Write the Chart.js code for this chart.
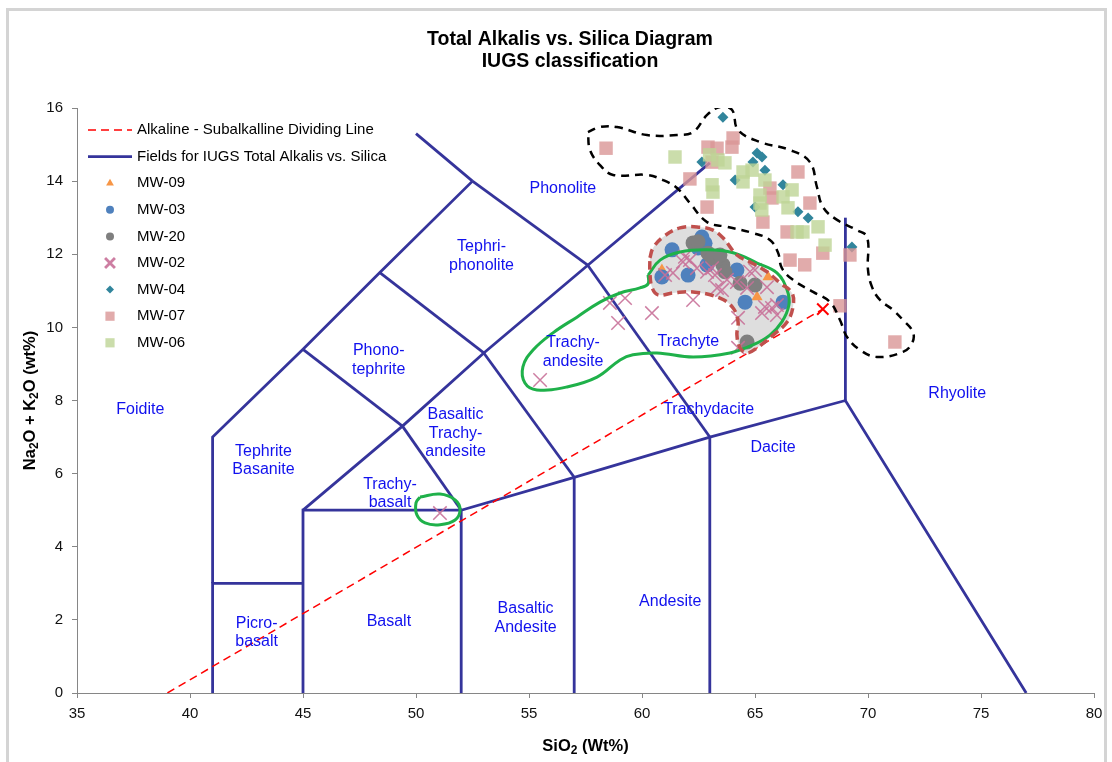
<!DOCTYPE html>
<html>
<head>
<meta charset="utf-8">
<script src="https://cdn.jsdelivr.net/npm/chart.js@4.4.1/dist/chart.umd.min.js"></script>
<style>
  html, body { margin: 0; padding: 0; background: #fff; }
  #wrap { width: 1112px; height: 762px; }
</style>
</head>
<body>
<div id="wrap"><canvas id="tas" width="1112" height="762"></canvas></div>
<script>
// sample series: [SiO2, Na2O + K2O]
const mw09 = [[60.88, 11.57], [63.14, 11.9], [65.58, 11.38], [65.09, 10.83]];
const mw03 = [[61.33, 12.12], [62.65, 12.47], [62.79, 12.3], [62.48, 12.17], [60.88, 11.38],
  [62.04, 11.43], [62.88, 11.71], [64.2, 11.57], [64.56, 10.69], [66.24, 10.69]];
const mw20 = [[62.26, 12.31], [62.48, 12.34], [62.92, 12.03], [63.1, 11.9], [63.58, 11.71],
  [63.67, 11.52], [63.45, 11.98], [64.34, 11.21], [65.0, 11.16], [64.65, 9.6]];
const mw02 = [[51.06, 4.92], [55.49, 8.56], [58.58, 10.67], [59.25, 10.8], [58.94, 10.12],
  [60.44, 10.39], [62.26, 10.75], [64.25, 10.26], [64.25, 9.44], [61.02, 11.43], [61.37, 11.49],
  [61.81, 11.79], [61.9, 11.93], [62.12, 11.84], [62.43, 11.62], [62.88, 11.52], [63.1, 11.62],
  [63.23, 11.43], [63.32, 11.08], [63.54, 11.02], [63.76, 11.3], [64.2, 11.24], [64.65, 11.08],
  [64.78, 11.52], [65.0, 11.57], [65.53, 11.1], [65.44, 10.56], [65.75, 10.53], [65.97, 10.61],
  [65.31, 10.39], [65.97, 10.34]];
const mw04 = [[63.58, 15.75], [62.65, 14.52], [65.09, 14.77], [65.31, 14.66], [64.91, 14.52],
  [65.44, 14.3], [64.12, 14.03], [66.24, 13.9], [65.0, 13.29], [66.9, 13.16], [67.35, 12.99],
  [69.29, 12.2]];
const mw07 = [[58.41, 14.9], [62.12, 14.06], [62.92, 14.93], [63.32, 14.9], [63.1, 14.52],
  [63.98, 14.93], [64.03, 15.18], [62.88, 13.29], [66.9, 14.25], [65.66, 13.81], [65.75, 13.54],
  [65.35, 12.88], [67.43, 13.4], [66.42, 12.61], [66.55, 11.84], [67.2, 11.71], [68.0, 12.03],
  [69.2, 11.98], [68.76, 10.59], [71.19, 9.6]];
const mw06 = [[61.46, 14.66], [62.99, 14.72], [63.36, 14.58], [63.67, 14.5], [63.1, 13.9],
  [63.14, 13.7], [64.47, 14.25], [64.87, 14.3], [64.47, 13.98], [65.44, 14.03], [65.22, 13.62],
  [65.22, 13.4], [65.3, 13.21], [66.24, 13.57], [66.64, 13.76], [66.46, 13.27], [66.86, 12.61],
  [67.12, 12.61], [67.79, 12.75], [68.1, 12.25]];

// alkaline / subalkaline dividing line
const dividingLine = [[39, 0], [68, 10.5]];

// IUGS field boundaries (each one a polyline)
const fieldSegments = [
  [[41, 0], [41, 3], [45, 3]],
  [[45, 0], [45, 5], [52, 5]],
  [[52, 0], [52, 5], [57, 5.9], [63, 7], [69, 8], [77, 0]],
  [[57, 0], [57, 5.9]],
  [[63, 0], [63, 7]],
  [[69, 8], [69, 13]],
  [[41, 3], [41, 7], [45, 9.4], [48.4, 11.5], [52.5, 14]],
  [[45, 5], [49.4, 7.3], [53, 9.3], [57.6, 11.7], [63, 14.5]],
  [[49.4, 7.3], [52, 5]],
  [[53, 9.3], [57, 5.9]],
  [[57.6, 11.7], [63, 7]],
  [[45, 9.4], [49.4, 7.3]],
  [[48.4, 11.5], [53, 9.3]],
  [[52.5, 14], [57.6, 11.7]],
  [[50, 15.3], [52.5, 14]]
];

// field names and where they sit (data units)
const fieldNames = [['Foidite'], ['Tephrite', 'Basanite'], ['Picro-', 'basalt'], ['Basalt'],
  ['Basaltic', 'Andesite'], ['Andesite'], ['Dacite'], ['Rhyolite'], ['Trachydacite'],
  ['Trachyte'], ['Trachy-', 'andesite'], ['Basaltic', 'Trachy-', 'andesite'],
  ['Trachy-', 'basalt'], ['Phono-', 'tephrite'], ['Tephri-', 'phonolite'], ['Phonolite']];
const fieldX = [37.8, 43.25, 42.95, 48.8, 54.85, 61.25, 65.8, 73.95, 62.95, 62.05, 56.95, 51.75, 48.85, 48.35, 52.9, 56.5];
const fieldY = [7.75, 6.35, 1.65, 1.95, 2.05, 2.5, 6.7, 8.2, 7.75, 9.62, 9.33, 7.1, 5.45, 9.1, 11.95, 13.8];

// hand drawn outlines around sample groups
const outlineOuter = [[57.61, 15.34], [58.14, 15.48], [58.89, 15.48], [60.22, 15.26], [61.55, 15.26],
  [62.26, 15.34], [62.88, 15.81], [63.45, 16.03], [63.98, 15.95], [64.25, 15.4], [65.22, 15.07],
  [66.55, 14.85], [67.43, 14.52], [67.74, 13.84], [68.01, 13.29], [68.63, 12.94], [69.51, 12.66],
  [69.96, 12.47], [70.0, 11.57], [70.18, 11.1], [70.53, 10.75], [71.1, 10.48], [71.55, 10.2],
  [71.99, 9.87], [71.95, 9.57], [71.55, 9.33], [70.4, 9.19], [69.65, 9.38], [69.07, 9.74],
  [68.76, 10.2], [68.32, 10.69], [67.57, 10.97], [66.68, 11.3], [66.19, 11.62], [66.02, 12.04],
  [65.66, 12.39], [64.91, 12.58], [63.76, 12.75], [62.88, 12.88], [62.12, 13.4], [61.55, 13.81],
  [60.93, 14.03], [60.22, 14.17], [58.72, 14.17], [58.14, 14.44], [57.7, 14.85], [57.61, 15.34]];
const outlineCluster = [[60.35, 11.9], [60.49, 12.17], [60.93, 12.47], [61.68, 12.72], [62.57, 12.74],
  [63.14, 12.66], [63.58, 12.45], [64.2, 11.98], [64.78, 11.79], [65.53, 11.52], [66.11, 11.21],
  [66.64, 10.94], [66.68, 10.56], [66.42, 10.15], [65.8, 9.79], [65.09, 9.44], [64.65, 9.3],
  [64.34, 9.44], [64.2, 9.79], [64.25, 10.15], [64.03, 10.53], [63.45, 10.8], [62.26, 10.97],
  [61.37, 10.94], [60.71, 10.89], [60.44, 11.1], [60.35, 11.52], [60.35, 11.9]];
const outlineTrachy = [[60.27, 11.43], [60.8, 11.84], [61.68, 12.06], [62.88, 12.12], [64.03, 12.04],
  [65.09, 11.76], [65.97, 11.49], [66.42, 11.02], [66.5, 10.61], [66.19, 10.15], [65.66, 9.79],
  [64.91, 9.52], [63.89, 9.3], [62.26, 9.19], [60.66, 9.3], [59.6, 9.25], [59.03, 9.11],
  [58.01, 8.64], [56.68, 8.37], [55.35, 8.29], [54.82, 8.48], [54.73, 8.92], [55.18, 9.38],
  [56.06, 9.85], [57.12, 10.28], [58.14, 10.69], [59.03, 10.94], [59.91, 11.08], [60.27, 11.19],
  [60.27, 11.43]];
const outlineBasalt = [[50.18, 5.36], [51.06, 5.44], [51.73, 5.28], [51.95, 5.01], [51.73, 4.73],
  [51.06, 4.6], [50.4, 4.65], [50.04, 4.87], [50.0, 5.2], [50.18, 5.36]];

const FONT = "'Liberation Sans', Arial, sans-serif";
const toXY = arr => arr.map(p => ({ x: p[0], y: p[1] }));

const seriesStyle = [
  { label: 'MW-09', data: mw09, style: 'triangle', r: 6.5, fill: '#f79646', line: '#f79646', order: 7 },
  { label: 'MW-03', data: mw03, style: 'circle', r: 7.5, fill: '#4f81bd', line: '#4f81bd', order: 6 },
  { label: 'MW-20', data: mw20, style: 'circle', r: 7.5, fill: '#7f7f7f', line: '#7f7f7f', order: 5 },
  { label: 'MW-02', data: mw02, style: 'crossRot', r: 9.5, fill: 'rgba(0,0,0,0)', line: 'rgba(200,112,152,0.9)', order: 4 },
  { label: 'MW-04', data: mw04, style: 'rectRot', r: 5.5, fill: '#31859c', line: '#31859c', order: 3 },
  { label: 'MW-07', data: mw07, style: 'rect', r: 9.5, fill: 'rgba(217,150,150,0.8)', line: 'rgba(217,150,150,0)', order: 2 },
  { label: 'MW-06', data: mw06, style: 'rect', r: 9.5, fill: 'rgba(190,213,150,0.8)', line: 'rgba(190,213,150,0)', order: 1 }
];

const datasets = [];
seriesStyle.forEach(s => {
  datasets.push({
    label: s.label,
    data: toXY(s.data),
    pointStyle: s.style,
    pointRadius: s.r,
    backgroundColor: s.fill,
    borderColor: s.line,
    borderWidth: s.style === 'crossRot' ? 1.5 : 0,
    order: s.order
  });
});

fieldSegments.forEach(seg => {
  datasets.push({
    label: 'fields',
    data: toXY(seg),
    showLine: true,
    borderColor: '#35349b',
    borderWidth: 2.8,
    pointRadius: 0,
    fill: false,
    order: 20
  });
});

datasets.push({
  label: 'dividing',
  data: toXY(dividingLine),
  showLine: true,
  borderColor: '#ff0000',
  borderWidth: 1.5,
  borderDash: [8, 5],
  pointStyle: 'crossRot',
  pointRadius: ctx => ctx.dataIndex === dividingLine.length - 1 ? 8 : 0,
  pointBorderWidth: 2,
  pointBorderColor: '#ff0000',
  order: 15
});

// grey filled area behind the trachyte cluster
datasets.push({
  label: 'clusterFill',
  data: toXY(outlineCluster),
  showLine: true,
  tension: 0.4,
  borderWidth: 0,
  borderColor: 'rgba(0,0,0,0)',
  backgroundColor: 'rgba(200,200,200,0.6)',
  fill: 'shape',
  pointRadius: 0,
  order: 12
});
datasets.push({
  label: 'clusterLine',
  data: toXY(outlineCluster),
  showLine: true,
  tension: 0.4,
  borderColor: '#c0504d',
  borderWidth: 3.5,
  borderDash: [9, 5],
  fill: false,
  pointRadius: 0,
  order: 0
});
datasets.push({
  label: 'outer',
  data: toXY(outlineOuter),
  showLine: true,
  tension: 0.4,
  borderColor: '#000',
  borderWidth: 2.5,
  borderDash: [8, 6],
  fill: false,
  pointRadius: 0,
  order: 0
});
[outlineTrachy, outlineBasalt].forEach(o => {
  datasets.push({
    label: 'green',
    data: toXY(o),
    showLine: true,
    tension: 0.4,
    borderColor: '#1fb14a',
    borderWidth: 3,
    fill: false,
    pointRadius: 0,
    order: 0
  });
});

// rich text helper for subscripts: parts = [[text, isSub], ...]
function drawRich(ctx, parts, size, cx, cy) {
  const big = 'bold ' + size + 'px ' + FONT;
  const small = 'bold ' + Math.round(size * 0.7) + 'px ' + FONT;
  let total = 0;
  parts.forEach(p => { ctx.font = p[1] ? small : big; total += ctx.measureText(p[0]).width; });
  let x = cx - total / 2;
  ctx.textAlign = 'left';
  ctx.textBaseline = 'middle';
  parts.forEach(p => {
    ctx.font = p[1] ? small : big;
    ctx.fillText(p[0], x, p[1] ? cy + 4.5 : cy);
    x += ctx.measureText(p[0]).width;
  });
}

const decor = {
  id: 'decor',
  beforeDraw(chart) {
    const ctx = chart.ctx;
    ctx.save();
    ctx.fillStyle = '#fff';
    ctx.fillRect(0, 0, chart.width, chart.height);
    ctx.strokeStyle = '#d4d4d4';
    ctx.lineWidth = 3;
    ctx.strokeRect(7.5, 9.5, chart.width - 14, chart.height + 20);
    ctx.restore();
  },
  afterDraw(chart) {
    const ctx = chart.ctx;
    const xs = chart.scales.x, ys = chart.scales.y;
    ctx.save();
    // title
    ctx.fillStyle = '#000';
    ctx.font = 'bold 19.5px ' + FONT;
    ctx.textAlign = 'center';
    ctx.textBaseline = 'middle';
    ctx.fillText('Total Alkalis vs. Silica Diagram', 570, 40);
    ctx.fillText('IUGS classification', 570, 62);

    // axis titles
    drawRich(ctx, [['SiO', false], ['2', true], [' (Wt%)', false]], 16.5, (xs.left + xs.right) / 2, 746);
    ctx.save();
    ctx.translate(30, (ys.top + ys.bottom) / 2);
    ctx.rotate(-Math.PI / 2);
    drawRich(ctx, [['Na', false], ['2', true], ['O + K', false], ['2', true], ['O (wt%)', false]], 16.5, 0, 0);
    ctx.restore();

    // field names
    ctx.fillStyle = '#1111ee';
    ctx.font = '16px ' + FONT;
    ctx.textAlign = 'center';
    ctx.textBaseline = 'middle';
    fieldNames.forEach((lines, i) => {
      const px = xs.getPixelForValue(fieldX[i]);
      const py = ys.getPixelForValue(fieldY[i]);
      const lh = 18.5;
      const y0 = py - (lines.length - 1) * lh / 2;
      lines.forEach((t, j) => ctx.fillText(t, px, y0 + j * lh));
    });

    // legend
    const lx = xs.left + 11, tx = xs.left + 60;
    let ly = ys.top + 22;
    const step = 26.6;
    ctx.font = '15px ' + FONT;
    ctx.textAlign = 'left';
    ctx.fillStyle = '#000';
    ctx.strokeStyle = '#ff0000';
    ctx.lineWidth = 1.5;
    ctx.setLineDash([8, 5]);
    ctx.beginPath(); ctx.moveTo(lx, ly); ctx.lineTo(lx + 44, ly); ctx.stroke();
    ctx.setLineDash([]);
    ctx.fillText('Alkaline - Subalkalline Dividing Line', tx, ly);
    ly += step;
    ctx.strokeStyle = '#35349b';
    ctx.lineWidth = 2.8;
    ctx.beginPath(); ctx.moveTo(lx, ly); ctx.lineTo(lx + 44, ly); ctx.stroke();
    ctx.fillText('Fields for IUGS Total Alkalis vs. Silica', tx, ly);
    seriesStyle.forEach(s => {
      ly += step;
      ctx.fillStyle = s.fill;
      ctx.strokeStyle = s.line;
      const r = s.style === 'crossRot' ? 7 : s.style === 'rect' ? 6.5 : s.style === 'triangle' ? 4.5 : 4;
      Chart.helpers.drawPoint(ctx, {
        pointStyle: s.style, radius: r, rotation: 0,
        borderWidth: s.style === 'crossRot' ? 1.3 : 0
      }, lx + 22, ly);
      ctx.fillStyle = '#000';
      ctx.fillText(s.label, tx, ly);
    });
    ctx.restore();
  }
};

const tickFont = { family: FONT, size: 15 };

new Chart(document.getElementById('tas'), {
  type: 'scatter',
  data: { datasets },
  options: {
    responsive: false,
    animation: false,
    events: [],
    layout: { padding: { top: 108, right: 18, bottom: 0, left: 0 } },
    plugins: {
      legend: { display: false },
      tooltip: { enabled: false },
      title: { display: false },
      filler: { propagate: false }
    },
    scales: {
      x: {
        type: 'linear',
        min: 35,
        max: 80,
        ticks: { stepSize: 5, color: '#111', font: tickFont, padding: 7 },
        grid: { drawOnChartArea: false, drawTicks: true, tickLength: 5, color: '#868686' },
        border: { color: '#868686', width: 1 },
        afterFit: scale => { scale.height = 69; }
      },
      y: {
        type: 'linear',
        min: 0,
        max: 16,
        ticks: { stepSize: 2, color: '#111', font: tickFont, padding: 9 },
        grid: { drawOnChartArea: false, drawTicks: true, tickLength: 5, color: '#868686' },
        border: { color: '#868686', width: 1 },
        afterFit: scale => { scale.width = 77; }
      }
    }
  },
  plugins: [decor]
});
</script>
</body>
</html>
